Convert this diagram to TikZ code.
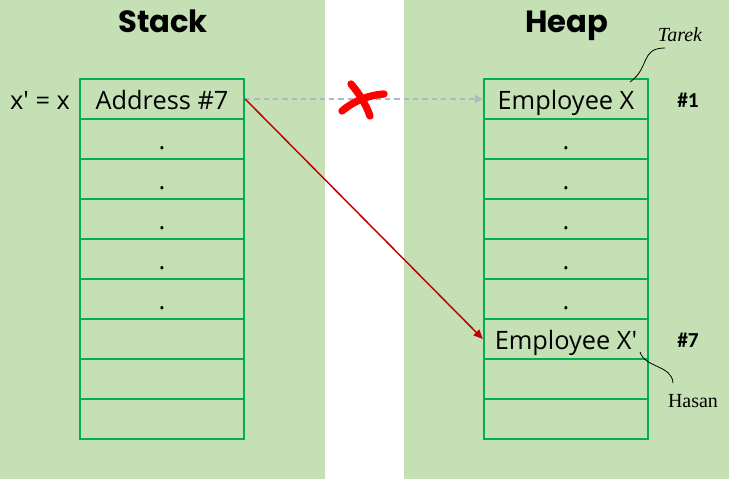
\documentclass[tikz,border=0pt]{standalone}
\usepackage{fontspec}
\setmainfont{Open Sans}[Ligatures=TeXOff]
\newfontfamily\boldfont{Carlito}
\newfontfamily\titlefont{Poppins}
\newfontfamily\handfont{Liberation Serif}
\usetikzlibrary{arrows.meta}
\definecolor{bggreen}{HTML}{C5E0B4}
\definecolor{cellgreen}{HTML}{00B050}
\definecolor{dashgray}{HTML}{ADB9CA}
\definecolor{darkred}{HTML}{C00000}
\definecolor{crossred}{HTML}{FF0000}
\tikzset{
  cell/.style={draw=cellgreen, line width=1.7pt, minimum width=123pt, minimum height=30pt,
    inner sep=0pt, text height=16pt, text depth=0pt, font=\fontsize{19}{23}\selectfont},
  plain/.style={inner sep=0pt, text height=16pt, text depth=0pt, font=\fontsize{19}{23}\selectfont},
  addr/.style={inner sep=0pt, font=\boldfont\fontsize{16}{19}\selectfont\bfseries},
  title/.style={inner sep=0pt, anchor=base, font=\titlefont\bfseries\fontsize{23}{27}\selectfont},
  hand/.style={inner sep=0pt, font=\handfont\fontsize{15}{18}\selectfont},
  dasharrow/.style={draw=dashgray, line width=1.1pt, dash pattern=on 4pt off 3pt, -{Triangle[length=6pt,width=6pt]}},
  redarrow/.style={draw=darkred, line width=1.1pt, -{Triangle[length=7pt,width=6pt]}},
  callout/.style={draw=black, line width=0.6pt},
  crossstroke/.style={draw=crossred, line width=5.5pt, line cap=round}
}
\begin{document}
\begin{tikzpicture}[x=0.75pt,y=-0.75pt]
\useasboundingbox (0,0) rectangle (729,479);
\fill[bggreen] (0,0) rectangle (325,479);
\fill[bggreen] (404,0) rectangle (729,479);

\node[title] (stacktitle) at (163,32) {Stack};
\node[title] (heaptitle) at (567,32) {Heap};

% stack
\node[cell] (s1) at (162,99) {Address \#7};
\node[cell] (s2) at (162,139) {.};
\node[cell] (s3) at (162,179) {.};
\node[cell] (s4) at (162,219) {.};
\node[cell] (s5) at (162,259) {.};
\node[cell] (s6) at (162,299) {.};
\node[cell] (s7) at (162,339) {};
\node[cell] (s8) at (162,379) {};
\node[cell] (s9) at (162,419) {};

% heap
\node[cell] (h1) at (566,99) {Employee X};
\node[cell] (h2) at (566,139) {.};
\node[cell] (h3) at (566,179) {.};
\node[cell] (h4) at (566,219) {.};
\node[cell] (h5) at (566,259) {.};
\node[cell] (h6) at (566,299) {.};
\node[cell] (h7) at (566,339) {Employee X'};
\node[cell] (h8) at (566,379) {};
\node[cell] (h9) at (566,419) {};

\node[plain] (xlabel) at (40,99) {x' = x};
\node[addr] (a1) at (688,100) {\#1};
\node[addr] (a7) at (688,340) {\#7};

% arrows
\draw[dasharrow] (s1.east) -- (h1.west);
\draw[redarrow] (s1.east) -- (h7.west);

% red cross
\draw[crossstroke] (351,84) .. controls (358,92) and (366,104) .. (370,116);
\draw[crossstroke] (342,111) .. controls (355,100) and (370,95) .. (384,94);

% callouts
\node[hand, font=\handfont\itshape\fontsize{15}{18}\selectfont] (tarek) at (680,35) {Tarek};
\coordinate (tk) at (630,82);
\draw[callout] (tk) .. controls (650,68) and (640,48) .. (665,48);
\node[hand] (hasan) at (693,401) {Hasan};
\coordinate (hs) at (640,352);
\draw[callout] (hs) .. controls (645,368) and (672,365) .. (673,383);
\end{tikzpicture}
\end{document}
